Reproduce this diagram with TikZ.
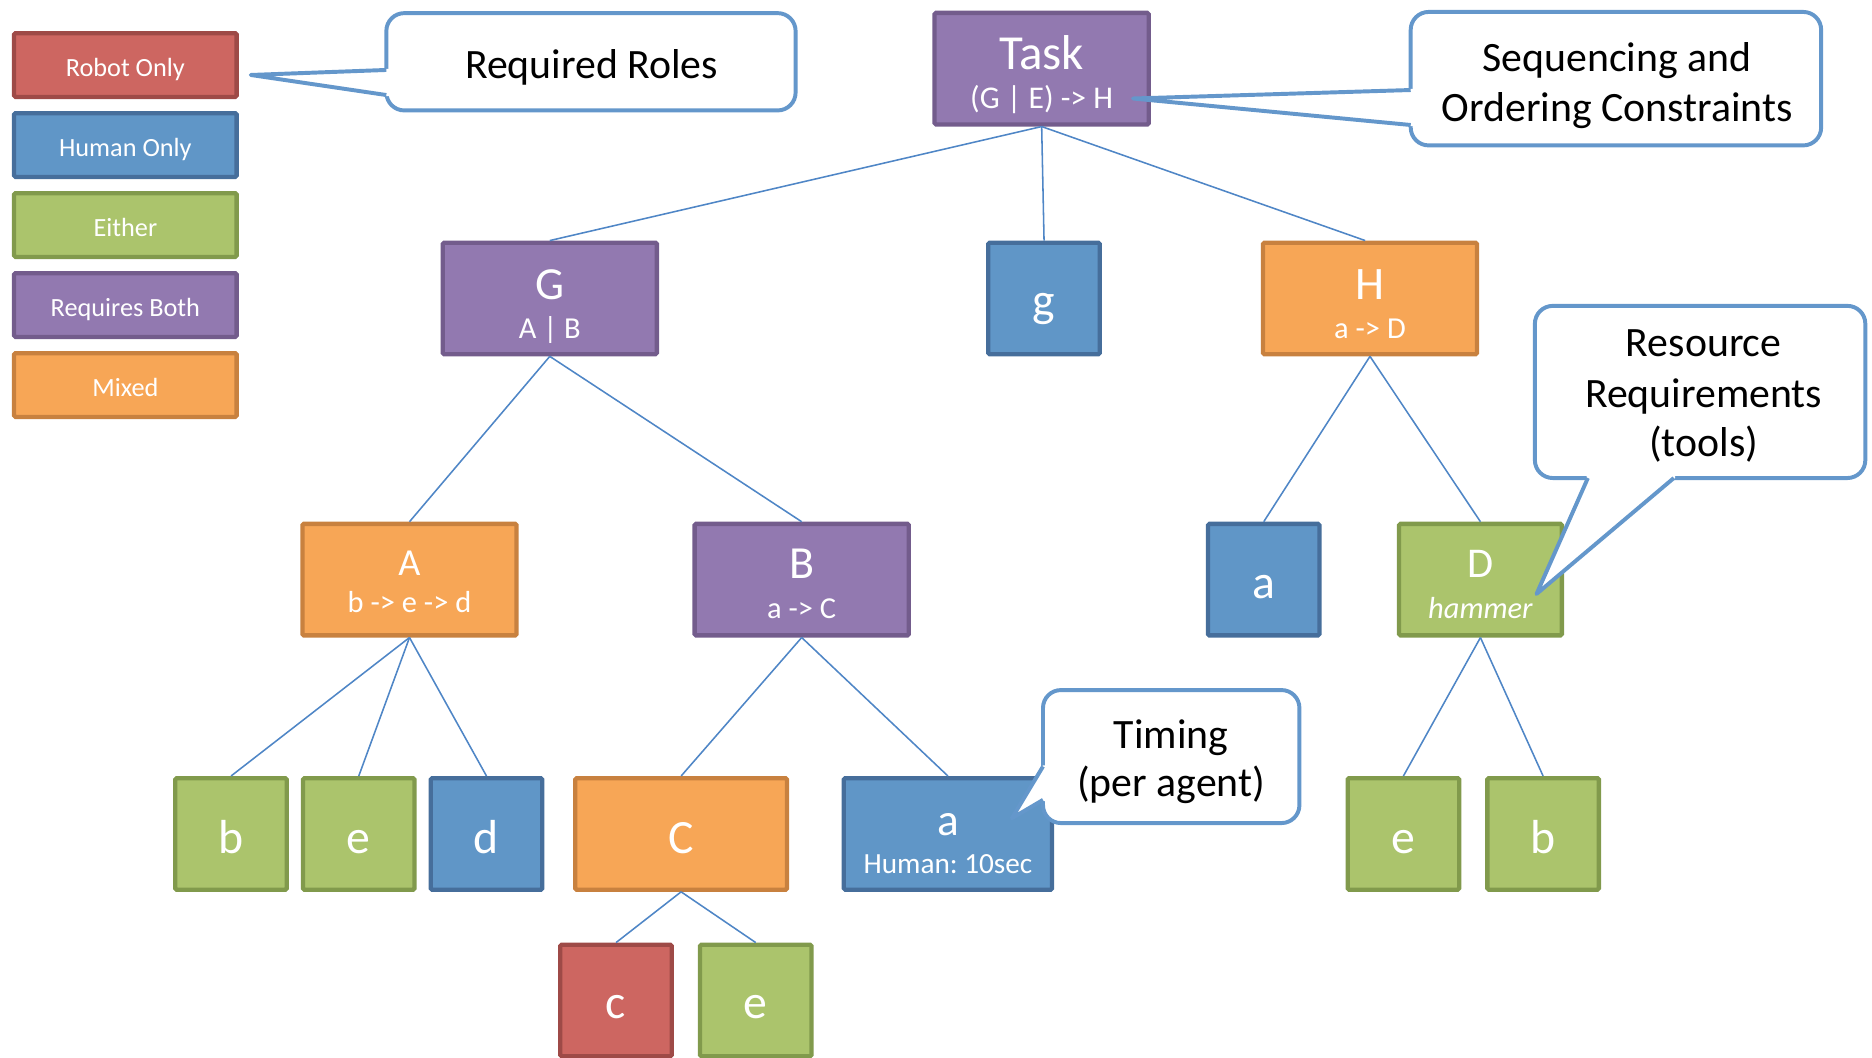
\documentclass[tikz,border=0pt]{standalone}
\usepackage{fontspec}
\setmainfont{Carlito}
\frenchspacing
\definecolor{rfill}{HTML}{CD6661}
\definecolor{rdraw}{HTML}{9E4A47}
\definecolor{hfill}{HTML}{6096C7}
\definecolor{hdraw}{HTML}{466E9B}
\definecolor{efill}{HTML}{ABC46C}
\definecolor{edraw}{HTML}{819A4C}
\definecolor{pfill}{HTML}{9279B0}
\definecolor{pdraw}{HTML}{735C8C}
\definecolor{ofill}{HTML}{F7A656}
\definecolor{odraw}{HTML}{C8813F}
\definecolor{linkc}{HTML}{4F86C6}
\definecolor{noteline}{HTML}{6497CB}
\begin{document}
\begin{tikzpicture}[x=1pt,y=-1pt,
  tbox/.style={draw, line width=3.6pt, rounded corners=1.2pt, inner sep=0pt},
  robot/.style={tbox, fill=rfill, draw=rdraw},
  human/.style={tbox, fill=hfill, draw=hdraw},
  either/.style={tbox, fill=efill, draw=edraw},
  both/.style={tbox, fill=pfill, draw=pdraw},
  mixed/.style={tbox, fill=ofill, draw=odraw},
  wide/.style={minimum width=179.4pt, minimum height=93.4pt},
  sq/.style={minimum width=93.4pt, minimum height=93.4pt},
  keybox/.style={minimum width=186.4pt, minimum height=53.4pt},
  txt/.style={anchor=base, inner sep=0pt, text=white},
  letter/.style={txt, font=\fontsize{40}{40}\selectfont},
  sub/.style={txt, font=\fontsize{25.5}{25.5}\selectfont},
  keytxt/.style={txt, font=\fontsize{22}{22}\selectfont},
  notetxt/.style={anchor=base, inner sep=0pt, text=black, font=\fontsize{35}{35}\selectfont},
  note/.style={draw=noteline, line width=3.3pt, fill=white, rounded corners=15pt, inner sep=0pt},
  ptr/.style={draw=noteline, line width=3.3pt, line join=round},
  link/.style={draw=linkc, line width=1.3pt}
]
\useasboundingbox (0,0) rectangle (1568,885.7);

% ---------- legend ----------
\node[robot, keybox]  (kr) at (105,54.5)  {};
\node[human, keybox]  (kh) at (105,121.5) {};
\node[either, keybox] (ke) at (105,188.5) {};
\node[both, keybox]   (kb) at (105,255.5) {};
\node[mixed, keybox]  (km) at (105,322.5) {};
\node[keytxt] (kr-t) at (105,63.7)  {Robot Only};
\node[keytxt] (kh-t) at (105,130.7) {Human Only};
\node[keytxt] (ke-t) at (105,197.7) {Either};
\node[keytxt] (kb-t) at (105,264.7) {Requires Both};
\node[keytxt] (km-t) at (105,331.7) {Mixed};

% ---------- task tree ----------
\node[both, wide] (task) at (872.5,57.5) {};
\node[both, wide] (G) at (460.5,250) {};
\node[human, sq]  (g) at (874.5,250) {};
\node[mixed, wide] (H) at (1147.5,250) {};
\node[mixed, wide] (A) at (343,485.5) {};
\node[both, wide]  (B) at (671.5,485.5) {};
\node[human, sq]   (a1) at (1058.5,485.5) {};
\node[either, minimum width=136.4pt, minimum height=93.4pt] (D) at (1240,485.5) {};
\node[either, sq] (b1) at (193.5,698.5) {};
\node[either, sq] (e1) at (300.5,698.5) {};
\node[human, sq]  (d)  at (407.5,698.5) {};
\node[mixed, minimum width=177.4pt, minimum height=93.4pt] (C) at (570.5,698.5) {};
\node[human, minimum width=174.4pt, minimum height=93.4pt] (a2) at (794,698.5) {};
\node[either, sq] (e2) at (1175.5,698.5) {};
\node[either, sq] (b2) at (1292.5,698.5) {};
\node[robot, sq]  (c)  at (516,838) {};
\node[either, sq] (e3) at (633,838) {};

% labels inside the boxes
\node[txt, font=\fontsize{41}{41}\selectfont] (task-t) at (872.5,58.5) {Task};
\node[sub, font=\fontsize{26.5}{26.5}\selectfont] (task-s) at (872.5,91) {(G | E) -> H};
\node[letter, font=\fontsize{38.5}{38.5}\selectfont] (G-t) at (460.5,250.7) {G};
\node[sub] (G-s) at (460.5,283.9) {A | B};
\node[letter] (g-t) at (874.5,265.5) {g};
\node[letter, font=\fontsize{39}{39}\selectfont] (H-t) at (1147.5,250.5) {H};
\node[sub] (H-s) at (1147.5,283.8) {a -> D};
\node[letter, font=\fontsize{32}{32}\selectfont] (A-t) at (343,481.7) {A};
\node[sub] (A-s) at (343,513.2) {b -> e -> d};
\node[letter, font=\fontsize{38.5}{38.5}\selectfont] (B-t) at (671.5,484.7) {B};
\node[sub] (B-s) at (671.5,518.3) {a -> C};
\node[letter] (a1-t) at (1058.5,501) {a};
\node[letter, font=\fontsize{35.5}{35.5}\selectfont] (D-t) at (1240,484) {D};
\node[sub, font=\fontsize{25.5}{25.5}\selectfont\itshape] (D-s) at (1240,518) {hammer};
\node[letter] (b1-t) at (193.5,714.5) {b};
\node[letter] (e1-t) at (300.5,714.5) {e};
\node[letter] (d-t)  at (407.5,714.5) {d};
\node[letter] (C-t)  at (570.5,714.5) {C};
\node[letter, font=\fontsize{38}{38}\selectfont] (a2-t) at (794,700) {a};
\node[sub, font=\fontsize{24.5}{24.5}\selectfont] (a2-s) at (794,731.5) {Human: 10sec};
\node[letter] (e2-t) at (1175.5,714.5) {e};
\node[letter] (b2-t) at (1292.5,714.5) {b};
\node[letter] (c-t)  at (516,853.5) {c};
\node[letter] (e3-t) at (633,853.5) {e};

% connectors
\draw[link] (task.south) -- (G.north);
\draw[link] (task.south) -- (g.north);
\draw[link] (task.south) -- ([xshift=-4pt]H.north);
\draw[link] (G.south) -- (A.north);
\draw[link] (G.south) -- (B.north);
\draw[link] (H.south) -- (a1.north);
\draw[link] (H.south) -- (D.north);
\draw[link] (A.south) -- (b1.north);
\draw[link] (A.south) -- (e1.north);
\draw[link] (A.south) -- (d.north);
\draw[link] (B.south) -- (C.north);
\draw[link] (B.south) -- (a2.north);
\draw[link] (D.south) -- (e2.north);
\draw[link] (D.south) -- (b2.north);
\draw[link] (C.south) -- (c.north);
\draw[link] (C.south) -- (e3.north);

% ---------- callouts ----------
% Required Roles
\node[note, minimum width=342.8pt, minimum height=81.5pt] (roles) at (495,51.75) {};
\fill[white] (323.6,57.6) -- (210,62.8) -- (323.6,80.6) -- (327.5,80.6) -- (327.5,57.6) -- cycle;
\draw[ptr] (323.6,58.6) -- (210,62.8) -- (323.6,79.6);
\node[notetxt] (roles-t) at (495.5,65.6) {Required Roles};

% Sequencing and Ordering Constraints
\node[note, minimum width=343.8pt, minimum height=111.8pt] (seq) at (1353.5,65.9) {};
\fill[white] (1181.6,74.4) -- (949,82.5) -- (1181.6,105.7) -- (1185.5,105.7) -- (1185.5,74.4) -- cycle;
\draw[ptr] (1181.6,75.4) -- (949,82.5) -- (1181.6,104.7);
\node[notetxt] (seq-t1) at (1354.5,59.5) {Sequencing and};
\node[notetxt] (seq-t2) at (1354.5,102) {Ordering Constraints};

% Resource Requirements (tools)
\node[note, minimum width=276.8pt, minimum height=144.2pt] (res) at (1424,328.3) {};
\fill[white] (1329,400.4) -- (1287,497.5) -- (1403,400.4) -- (1403,396.5) -- (1329,396.5) -- cycle;
\draw[ptr] (1330,400.4) -- (1287,497.5) -- (1402,400.4);
\node[notetxt] (res-t1) at (1427,298.7) {Resource};
\node[notetxt] (res-t2) at (1427,341) {Requirements};
\node[notetxt] (res-t3) at (1427,382.5) {(tools)};

% Timing (per agent)
\node[note, minimum width=214.8pt, minimum height=111.4pt] (timing) at (981,633.7) {};
\fill[white] (873.6,641) -- (847.5,685.4) -- (873.6,671) -- (877.5,671) -- (877.5,641) -- cycle;
\draw[ptr] (873.6,642) -- (847.5,685.4) -- (873.6,670);
\node[notetxt] (timing-t1) at (981,626.8) {Timing};
\node[notetxt] (timing-t2) at (981,667) {(per agent)};
\end{tikzpicture}
\end{document}
